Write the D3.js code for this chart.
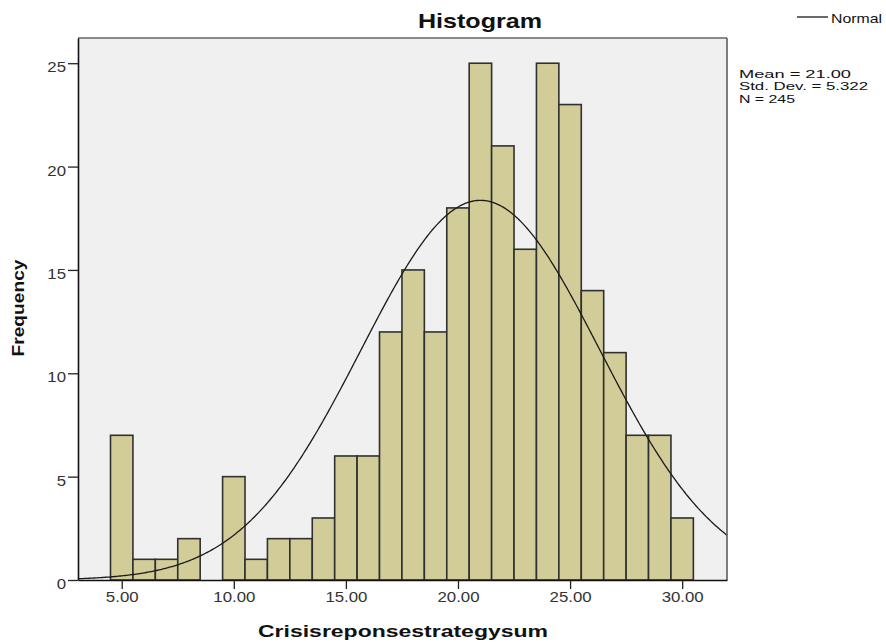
<!DOCTYPE html>
<html>
<head>
<meta charset="utf-8">
<script src="https://cdn.jsdelivr.net/npm/d3@7"></script>
<style>
    html, body { margin: 0; padding: 0; background: #ffffff; }
    svg { display: block; font-family: "Liberation Sans", Arial, sans-serif; }
</style>
</head>
<body>
<svg id="chart" width="886" height="644"></svg>
<script>
/* =========================================================
   Data
   ========================================================= */

const scores = [5, 6, 7, 8, 9, 10, 11, 12, 13, 14, 15, 16, 17,
                18, 19, 20, 21, 22, 23, 24, 25, 26, 27, 28, 29, 30];
const counts = [7, 1, 1, 2, 0, 5, 1, 2, 2, 3, 6, 6, 12,
                15, 12, 18, 25, 21, 16, 25, 23, 14, 11, 7, 7, 3];

const xTicks = [5, 10, 15, 20, 25, 30];
const yTicks = [0, 5, 10, 15, 20, 25];

const MEAN = 21.00;
const SD = 5.322;
const N = 245;
const statLines = ["Mean = 21.00", "Std. Dev. = 5.322", "N = 245"];

/* =========================================================
   Layout
   ========================================================= */

const PLOT = { left: 78, right: 727, top: 38, bottom: 580 };
const BAR_FILL = "#d2cd98";
const BAR_STROKE = "#303030";
const PLOT_BG = "#f0f0f0";

const svg = d3.select("#chart");

const x = d3.scaleLinear()
    .domain([3.05, 32.0])
    .range([PLOT.left, PLOT.right]);

const y = d3.scaleLinear()
    .domain([0, 26.22])
    .range([PLOT.bottom, PLOT.top]);

// stretch text to a target width (SPSS fonts render wide)
function fitWidth(sel, width) {
    sel.attr("textLength", width)
       .attr("lengthAdjust", "spacingAndGlyphs");
}

function stretch(sel, k) {
    sel.each(function () {
        const w = this.getComputedTextLength();
        d3.select(this)
            .attr("textLength", w * k)
            .attr("lengthAdjust", "spacingAndGlyphs");
    });
}

/* =========================================================
   Plot area
   ========================================================= */

svg.append("rect")
    .attr("x", PLOT.left)
    .attr("y", PLOT.top)
    .attr("width", PLOT.right - PLOT.left)
    .attr("height", PLOT.bottom - PLOT.top)
    .attr("fill", PLOT_BG)
    .attr("stroke", "none");

/* bars */
const bins = scores.map((s, i) => ({ s, c: counts[i] })).filter(d => d.c > 0);

svg.append("g")
    .selectAll("rect")
    .data(bins)
    .enter()
    .append("rect")
    .attr("x", d => x(d.s - 0.5))
    .attr("y", d => y(d.c))
    .attr("width", d => x(d.s + 0.5) - x(d.s - 0.5))
    .attr("height", d => y(0) - y(d.c))
    .attr("fill", BAR_FILL)
    .attr("stroke", BAR_STROKE)
    .attr("stroke-width", 1.6);

/* normal curve from the reported mean / sd / n (bin width 1) */
const curveXs = d3.range(0, 401).map(i => x.domain()[0] + i * (x.domain()[1] - x.domain()[0]) / 400);
const normal = v => N * Math.exp(-0.5 * ((v - MEAN) / SD) ** 2) / (SD * Math.sqrt(2 * Math.PI));

svg.append("path")
    .datum(curveXs)
    .attr("fill", "none")
    .attr("stroke", "#1a1a1a")
    .attr("stroke-width", 1.3)
    .attr("d", d3.line().x(v => x(v)).y(v => y(normal(v))));

/* frame: top/right grey, left/bottom black */
svg.append("line")
    .attr("x1", PLOT.left).attr("x2", PLOT.right)
    .attr("y1", PLOT.top).attr("y2", PLOT.top)
    .attr("stroke", "#8a8a8a").attr("stroke-width", 2);

svg.append("line")
    .attr("x1", PLOT.right).attr("x2", PLOT.right)
    .attr("y1", PLOT.top).attr("y2", PLOT.bottom)
    .attr("stroke", "#555555").attr("stroke-width", 1.5);

/* =========================================================
   Axes
   ========================================================= */

const yAxis = svg.append("g")
    .attr("transform", `translate(${PLOT.left},0)`)
    .call(d3.axisLeft(y).tickValues(yTicks).tickSize(10).tickPadding(2).tickSizeOuter(0));

const xAxis = svg.append("g")
    .attr("transform", `translate(0,${PLOT.bottom})`)
    .call(d3.axisBottom(x).tickValues(xTicks).tickFormat(d3.format(".2f")).tickSize(9).tickPadding(3).tickSizeOuter(0));

[yAxis, xAxis].forEach(ax => {
    ax.select(".domain").attr("stroke", "#111111").attr("stroke-width", 1.6);
    ax.selectAll(".tick line").attr("stroke", "#222222").attr("stroke-width", 1.3);
    ax.selectAll(".tick text")
        .attr("font-family", "'Liberation Sans', Arial, sans-serif")
        .attr("font-size", 14)
        .attr("fill", "#333333");
});

yAxis.selectAll(".tick text").attr("dy", "0.62em");
xAxis.selectAll(".tick text").attr("dy", "0.71em");

stretch(yAxis.selectAll(".tick text"), 1.2);
stretch(xAxis.selectAll(".tick text"), 1.2);

/* =========================================================
   Titles and labels
   ========================================================= */

svg.append("text")
    .attr("x", 480)
    .attr("y", 28)
    .attr("text-anchor", "middle")
    .attr("font-size", 21)
    .attr("font-weight", 700)
    .attr("fill", "#111111")
    .text("Histogram")
    .call(fitWidth, 124);

svg.append("text")
    .attr("x", 403)
    .attr("y", 637)
    .attr("text-anchor", "middle")
    .attr("font-size", 17)
    .attr("font-weight", 700)
    .attr("fill", "#111111")
    .text("Crisisreponsestrategysum")
    .call(fitWidth, 290);

svg.append("text")
    .attr("transform", `translate(24,308) rotate(-90)`)
    .attr("text-anchor", "middle")
    .attr("font-size", 16)
    .attr("font-weight", 700)
    .attr("fill", "#111111")
    .text("Frequency")
    .call(fitWidth, 97);

/* legend */
svg.append("line")
    .attr("x1", 797).attr("x2", 828)
    .attr("y1", 17).attr("y2", 17)
    .attr("stroke", "#1a1a1a").attr("stroke-width", 1.3);

svg.append("text")
    .attr("x", 831)
    .attr("y", 23)
    .attr("font-size", 13)
    .attr("fill", "#111111")
    .text("Normal")
    .call(fitWidth, 51);

/* stats block */
const statWidths = [112, 129, 56];
svg.append("g")
    .selectAll("text")
    .data(statLines)
    .enter()
    .append("text")
    .attr("x", 739)
    .attr("y", (_, i) => 77.5 + i * 12.5)
    .attr("font-size", 11.5)
    .attr("fill", "#111111")
    .text(d => d)
    .each(function (_, i) {
        d3.select(this).call(fitWidth, statWidths[i]);
    });
</script>
</body>
</html>
